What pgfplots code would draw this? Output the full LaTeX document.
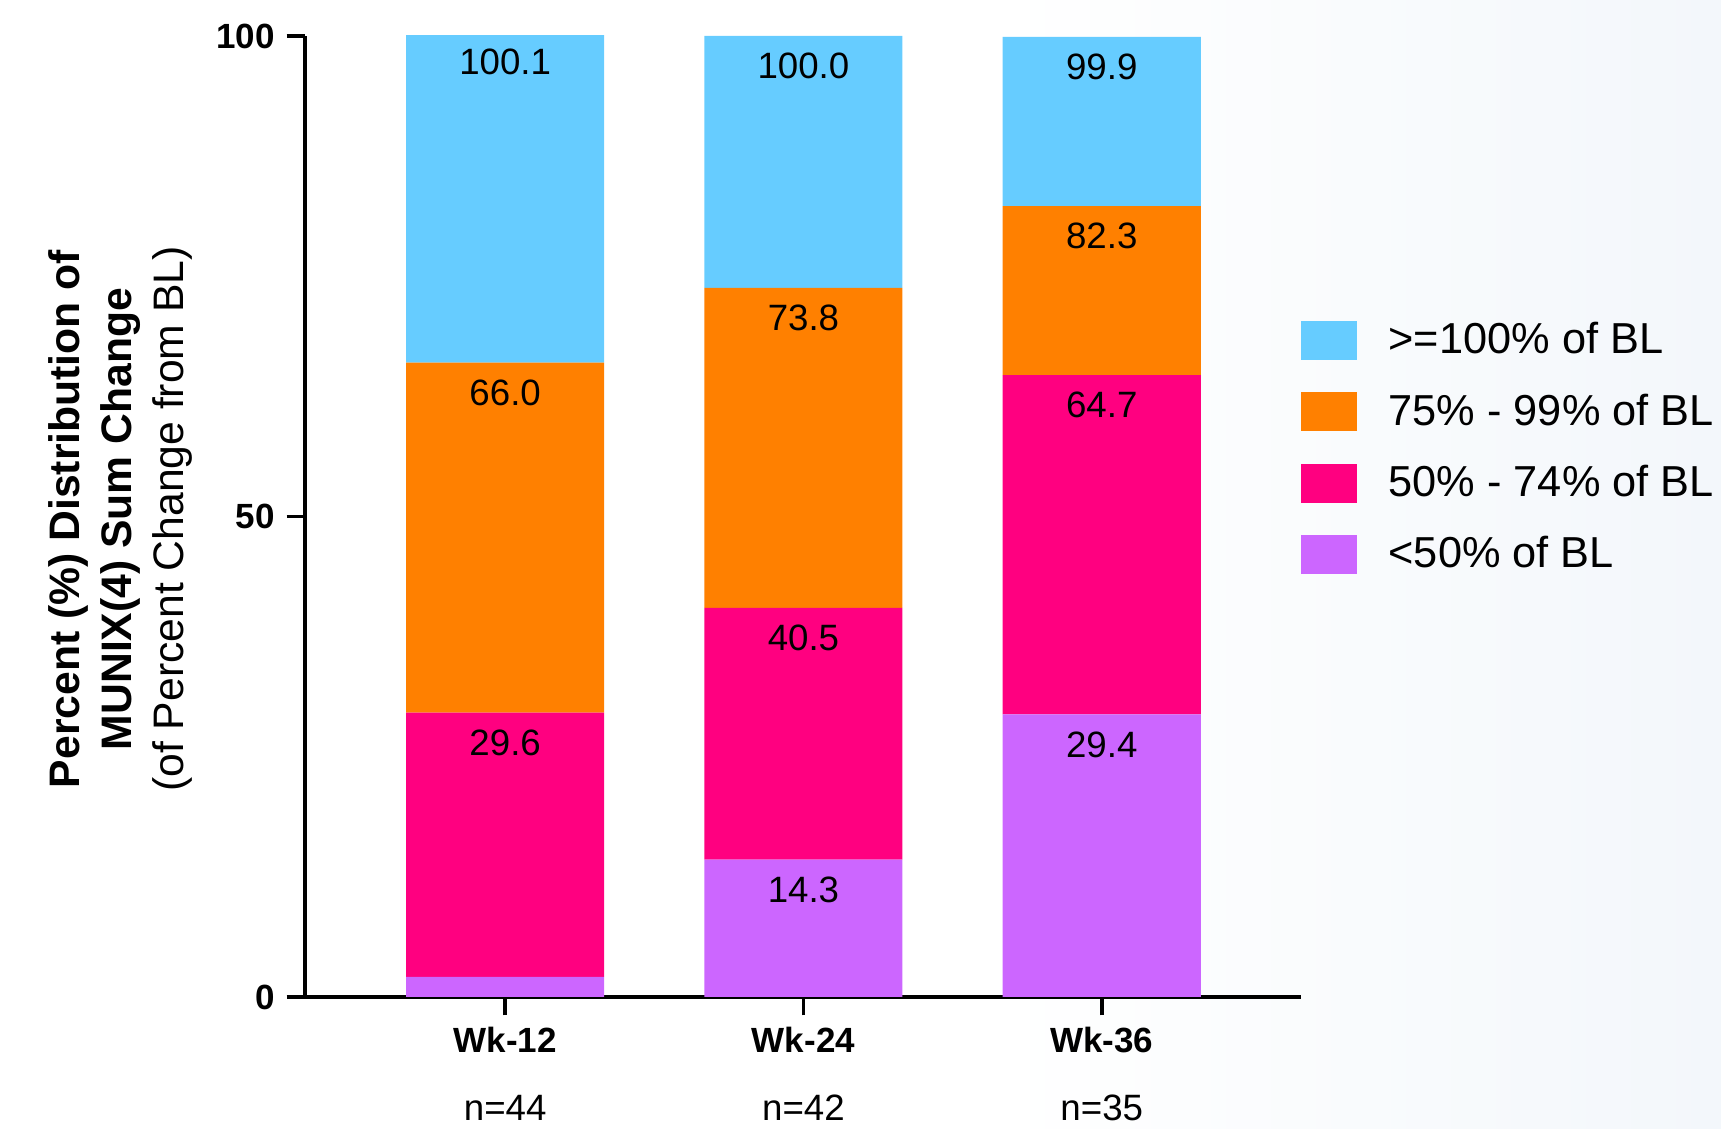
\documentclass[border=0pt]{standalone}
\usepackage{fontspec}
\setmainfont{Liberation Sans}
\usepackage{pgfplots}
\pgfplotsset{compat=1.18}
\definecolor{cBlue}{RGB}{102,204,255}
\definecolor{cOrange}{RGB}{255,128,0}
\definecolor{cPink}{RGB}{255,0,128}
\definecolor{cPurple}{RGB}{204,102,255}
\tikzset{vlab/.style={font=\fontsize{11}{13}\selectfont, yshift=-9pt}}
\begin{document}
\begin{tikzpicture}
\path[use as bounding box] (0,0) rectangle (516.3pt,338.7pt);
\shade[left color=white, right color={rgb,255:red,243;green,247;blue,251}] (300pt,0) rectangle (516.3pt,338.7pt);
\begin{axis}[
  at={(91.5pt,39.6pt)}, anchor=south west,
  scale only axis, width=298.8pt, height=288.3pt,
  xmin=-0.671, xmax=2.668, ymin=0, ymax=100,
  axis x line*=bottom, axis y line*=left,
  axis line style={line width=1.1pt,-},
  ybar stacked, bar width=0.664,
  xtick={0,1,2}, xticklabels={Wk-12,Wk-24,Wk-36},
  ytick={0,50,100},
  tick align=outside, major tick length=5.5pt,
  tick style={line width=1.1pt, black},
  /pgf/number format/assume math mode=true,
  yticklabel style={font=\fontsize{10.5}{12}\selectfont\bfseries},
  xticklabel style={font=\fontsize{10.5}{12}\selectfont\bfseries},
  clip=false,
  reverse legend,
  legend style={at={(axis description cs:1.0,0.709)}, anchor=north west,
    draw=none, fill=none, inner sep=0pt, outer sep=0pt,
    font=\fontsize{13}{15}\selectfont, row sep=6.5pt, column sep=7.5pt},
  legend cell align=left,
  legend image code/.code={\fill[#1,draw=none] (0pt,-5.85pt) rectangle (16.8pt,5.85pt);},
]
\addplot[fill=cPurple, draw=none] coordinates {(0,2.1) (1,14.3) (2,29.4)};
\addlegendentry{<50\% of BL}
\addplot[fill=cPink, draw=none] coordinates {(0,27.5) (1,26.2) (2,35.3)};
\addlegendentry{50\% - 74\% of BL}
\addplot[fill=cOrange, draw=none] coordinates {(0,36.4) (1,33.3) (2,17.6)};
\addlegendentry{75\% - 99\% of BL}
\addplot[fill=cBlue, draw=none] coordinates {(0,34.1) (1,26.2) (2,17.6)};
\addlegendentry{>=100\% of BL}
\coordinate (a1) at (axis cs:0,100.1);
\coordinate (a2) at (axis cs:0,66.0);
\coordinate (a3) at (axis cs:0,29.6);
\coordinate (b1) at (axis cs:1,100.0);
\coordinate (b2) at (axis cs:1,73.8);
\coordinate (b3) at (axis cs:1,40.5);
\coordinate (b4) at (axis cs:1,14.3);
\coordinate (c1) at (axis cs:2,99.9);
\coordinate (c2) at (axis cs:2,82.3);
\coordinate (c3) at (axis cs:2,64.7);
\coordinate (c4) at (axis cs:2,29.4);
\coordinate (n1) at (axis cs:0,0);
\coordinate (n2) at (axis cs:1,0);
\coordinate (n3) at (axis cs:2,0);
\end{axis}
\node[vlab, yshift=1pt] at (a1) {100.1};
\node[vlab] at (a2) {66.0};
\node[vlab] at (a3) {29.6};
\node[vlab] at (b1) {100.0};
\node[vlab] at (b2) {73.8};
\node[vlab] at (b3) {40.5};
\node[vlab] at (b4) {14.3};
\node[vlab] at (c1) {99.9};
\node[vlab] at (c2) {82.3};
\node[vlab] at (c3) {64.7};
\node[vlab] at (c4) {29.4};
\node[font=\fontsize{11}{13}\selectfont, yshift=-33.3pt] at (n1) {n=44};
\node[font=\fontsize{11}{13}\selectfont, yshift=-33.3pt] at (n2) {n=42};
\node[font=\fontsize{11}{13}\selectfont, yshift=-33.3pt] at (n3) {n=35};
\node[rotate=90, align=center, font=\fontsize{12.8}{15.6}\selectfont] at (36.2pt,183pt)
  {\textbf{Percent (\%) Distribution of}\\\textbf{MUNIX(4) Sum Change}\\(of Percent Change from BL)};
\end{tikzpicture}
\end{document}
